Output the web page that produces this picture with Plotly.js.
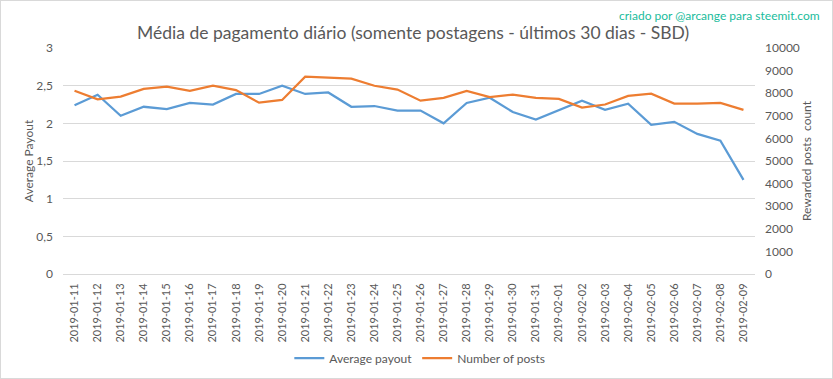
<!DOCTYPE html>
<html>
<head>
<meta charset="utf-8">
<script src="https://cdn.plot.ly/plotly-3.0.1.min.js"></script>
<style>
  html, body { margin: 0; padding: 0; background: #fff; }
  #chart { width: 833px; height: 379px; box-sizing: border-box; border: 1px solid #d9d9d9; }
</style>
</head>
<body>
<div id="chart"></div>
<script>
const dates = ["2019-01-11","2019-01-12","2019-01-13","2019-01-14","2019-01-15","2019-01-16","2019-01-17","2019-01-18","2019-01-19","2019-01-20",
  "2019-01-21","2019-01-22","2019-01-23","2019-01-24","2019-01-25","2019-01-26","2019-01-27","2019-01-28","2019-01-29","2019-01-30",
  "2019-01-31","2019-02-01","2019-02-02","2019-02-03","2019-02-04","2019-02-05","2019-02-06","2019-02-07","2019-02-08","2019-02-09"];
const averagePayout = [2.24,2.38,2.10,2.22,2.19,2.27,2.25,2.39,2.39,2.50,
  2.39,2.41,2.22,2.23,2.17,2.17,2.00,2.27,2.34,2.15,
  2.05,2.17,2.30,2.18,2.26,1.98,2.02,1.86,1.77,1.25];
const numberOfPosts = [8110,7730,7850,8190,8290,8100,8330,8140,7580,7700,
  8730,8690,8640,8330,8160,7670,7790,8100,7830,7935,
  7790,7745,7360,7500,7880,7980,7540,7540,7570,7260];

const textColor = "#595959";
const fontFamily = "Lato, 'Open Sans', sans-serif";

const traces = [
  { x: dates, y: averagePayout, name: "Average payout", type: "scatter", mode: "lines",
    line: { color: "#5b9bd5", width: 2.25 }, yaxis: "y" },
  { x: dates, y: numberOfPosts, name: "Number of posts", type: "scatter", mode: "lines",
    line: { color: "#ed7d31", width: 2.25 }, yaxis: "y2" }
];

const layout = {
  width: 831, height: 377,
  margin: { l: 62, r: 77, t: 47, b: 104 },
  paper_bgcolor: "#fff", plot_bgcolor: "#fff",
  separators: ",.",
  font: { family: fontFamily, color: textColor, size: 11 },
  title: { text: "Média de pagamento diário (somente postagens - últimos 30 dias - SBD)",
    font: { size: 17.5, color: textColor, family: fontFamily },
    x: 0.496, xref: "container", xanchor: "center", y: 0.915, yref: "container", yanchor: "middle" },
  xaxis: { type: "category", range: [-0.5, dates.length - 0.5], autorange: false,
    tickangle: -90, showgrid: false, zeroline: false,
    showline: true, linecolor: "#d9d9d9", linewidth: 1, ticks: "", ticklabelstandoff: 4,
    tickfont: { size: 11, color: textColor } },
  yaxis: { range: [0, 3], autorange: false, dtick: 0.5, tick0: 0, showgrid: true, gridcolor: "#d9d9d9", zeroline: false,
    showline: false, ticks: "", ticklabelstandoff: 9, tickfont: { size: 12, color: textColor },
    title: { text: "Average Payout", font: { size: 12, color: textColor }, standoff: 0 } },
  yaxis2: { range: [0, 10000], autorange: false, dtick: 1000, tick0: 0, overlaying: "y", side: "right", showgrid: false,
    zeroline: false, showline: false, ticks: "", tickformat: "d", ticklabelstandoff: 9,
    tickfont: { size: 12, color: textColor },
    title: { text: "Rewarded posts  count", font: { size: 12, color: textColor }, standoff: 3 } },
  legend: { orientation: "h", xref: "container", yref: "container", x: 0.504, xanchor: "center", y: 0.053, yanchor: "middle",
    font: { size: 12, color: textColor }, bgcolor: "rgba(0,0,0,0)" },
  annotations: [
    { text: "criado por @arcange para steemit.com", xref: "paper", yref: "paper",
      x: 1.0968, y: 1.1416, xanchor: "right", yanchor: "middle", showarrow: false,
      font: { size: 12, color: "#1abc9c", family: fontFamily } }
  ],
  showlegend: true
};

Plotly.newPlot("chart", traces, layout, { displayModeBar: false, responsive: false });
</script>
</body>
</html>
